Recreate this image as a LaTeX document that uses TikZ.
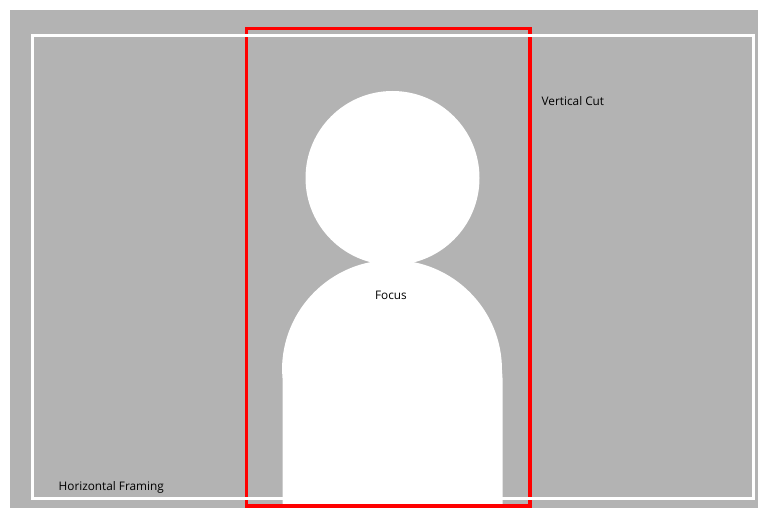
\documentclass[tikz,border=0pt]{standalone}
\usepackage{fontspec}
\setmainfont{Open Sans}
\usetikzlibrary{positioning}

\begin{document}
\begin{tikzpicture}[
    x=1pt, y=-1pt,
    backdrop/.style={fill=backgray, draw=none},
    figure/.style={fill=white, draw=none},
    framing/.style={draw=white, line width=3pt},
    cut/.style={draw=red, line width=3.3pt},
    caption/.style={font=\fontsize{11.8}{14}\selectfont, text=black, inner sep=0pt}
]
\definecolor{backgray}{gray}{0.702}
\useasboundingbox (0,0) rectangle (758,508);

% 1. Background
\fill[backdrop] (10,10) rectangle (758,508);

% 2. Person
\fill[figure] (392.5,178) circle (87);
\fill[figure] (282.5,505.5) -- (282.5,378) -- (282,370) arc[start angle=180, end angle=360, radius=110] -- (502.5,378) -- (502.5,505.5) -- cycle;

% 3. Frames
\draw[cut] (246.5,28.5) rectangle (530,506);
\draw[framing] (32,35.5) rectangle (753,498);

% 4. Labels
\node[caption] (focus) at (391,295.5) {Focus};
\node[caption, anchor=west] (vertical) at (541.5,101) {Vertical Cut};
\node[caption, anchor=west] (horizontal) at (58.5,487) {Horizontal Framing};

\end{tikzpicture}
\end{document}
